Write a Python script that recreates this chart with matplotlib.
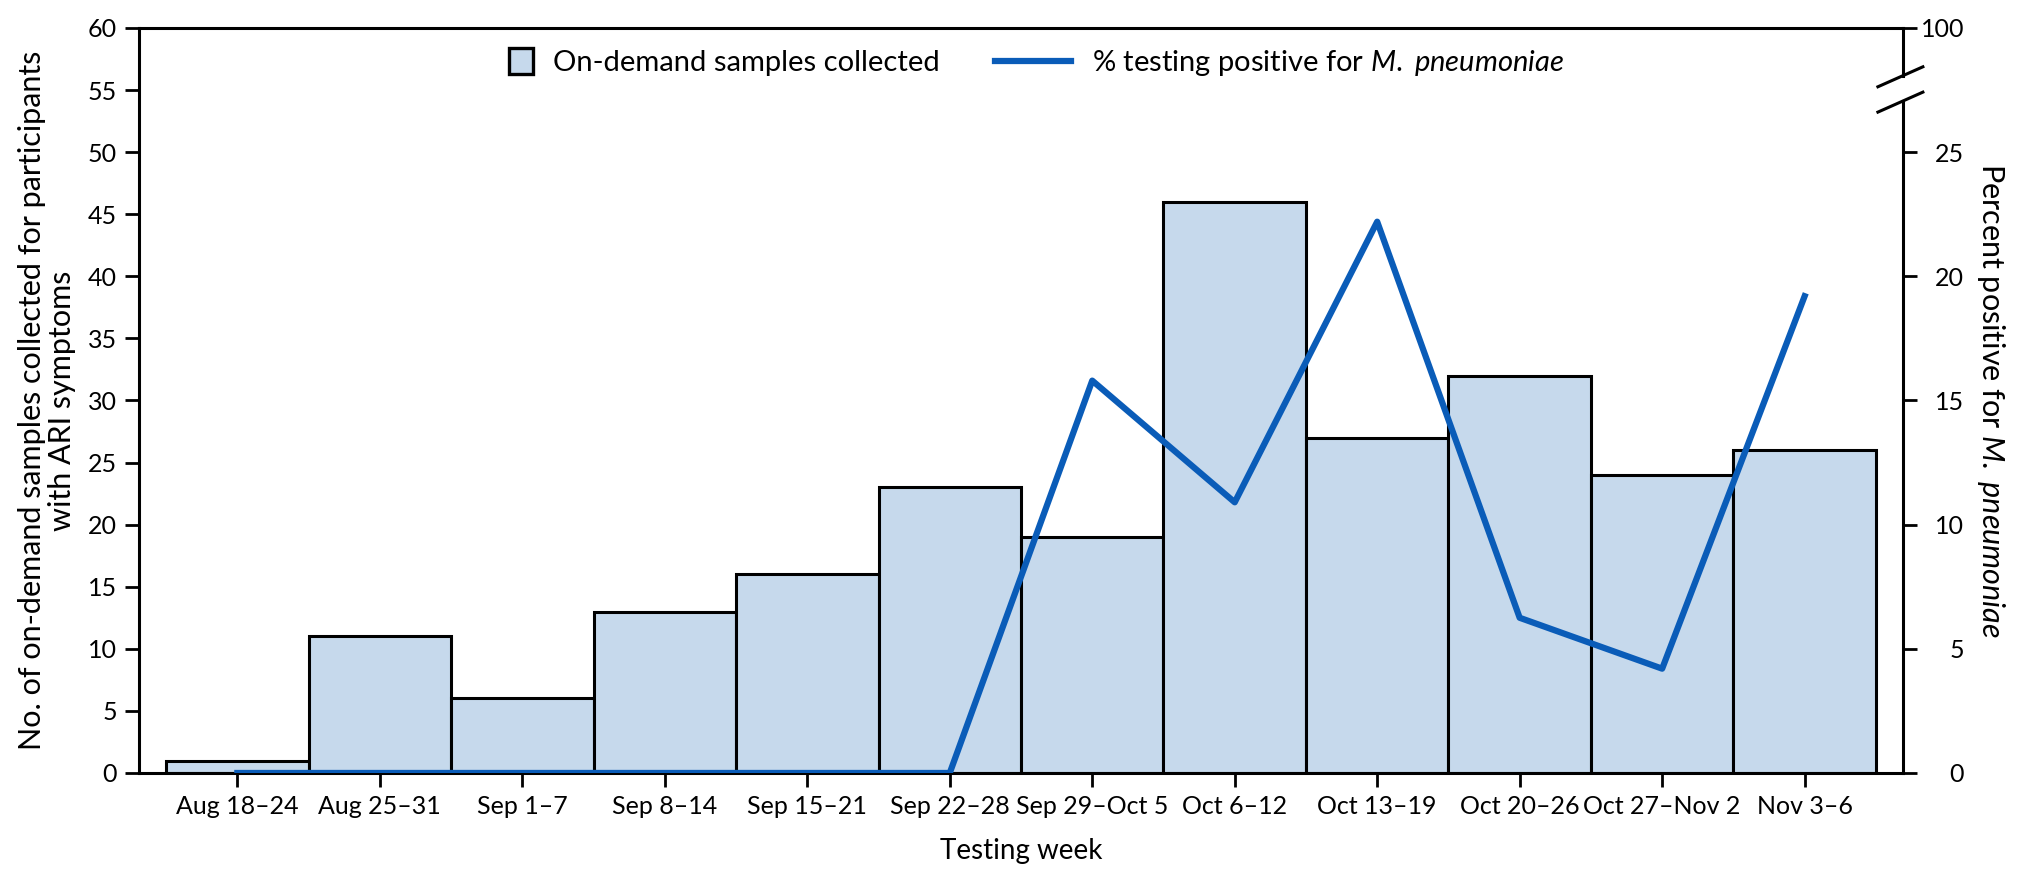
import numpy as np
import matplotlib
matplotlib.use("Agg")
import matplotlib.pyplot as plt
import matplotlib.patches as mpatches
from matplotlib.lines import Line2D
from matplotlib.legend_handler import HandlerPatch

weeks = ["Aug 18–24", "Aug 25–31", "Sep 1–7", "Sep 8–14", "Sep 15–21", "Sep 22–28",
         "Sep 29–Oct 5", "Oct 6–12", "Oct 13–19", "Oct 20–26", "Oct 27–Nov 2", "Nov 3–6"]
samples = [1, 11, 6, 13, 16, 23, 19, 46, 27, 32, 24, 26]
pct_positive = [0, 0, 0, 0, 0, 0, 15.8, 10.9, 22.2, 6.25, 4.2, 19.2]

left_ticks = [0, 5, 10, 15, 20, 25, 30, 35, 40, 45, 50, 55, 60]
right_ticks = [0, 5, 10, 15, 20, 25, 30]
right_labels = ["0", "5", "10", "15", "20", "25", "100"]

BAR_COLOR = "#c6d9ec"
LINE_COLOR = "#0a5cb8"
FONT = ["Lato", "DejaVu Sans"]

plt.rcParams["font.family"] = FONT
plt.rcParams["mathtext.fontset"] = "custom"
plt.rcParams["mathtext.it"] = "Lato:italic"
plt.rcParams["mathtext.rm"] = "Lato"


def square_patch(legend, orig_handle, xdescent, ydescent, width, height, fontsize):
    side = height * 1.3
    return mpatches.Rectangle((-xdescent + width - side * 0.9, -ydescent + height / 2 - side / 2),
                              side * 0.9, side)


fig = plt.figure(figsize=(20.27, 8.75), dpi=100)
ax = fig.add_axes([0.0686, 0.1166, 0.8702, 0.8514])
x = np.arange(len(weeks))

ax.bar(x, samples, width=1.0, color=BAR_COLOR, edgecolor="black", linewidth=2.2, zorder=2)
ax.set_xlim(-0.69, len(weeks) - 1 + 0.69)
ax.set_ylim(0, 60)
ax.set_yticks(left_ticks)
ax.set_xticks(x)
ax.set_xticklabels(weeks)
ax.tick_params(axis="both", labelsize=18, length=10, width=2, pad=6, direction="out")
ax.spines["right"].set_visible(False)
for s in ["left", "top", "bottom"]:
    ax.spines[s].set_linewidth(2.2)
ax.set_xlabel("Testing week", fontsize=20, labelpad=14)
ax.set_ylabel("No. of on-demand samples collected for participants\nwith ARI symptoms",
              fontsize=22, labelpad=8, multialignment="center", linespacing=1.1)

ax2 = ax.twinx()
ax2.plot(x, pct_positive, color=LINE_COLOR, linewidth=4.5, zorder=3)
ax2.set_ylim(0, 30)
ax2.set_yticks(right_ticks)
ax2.set_yticklabels(right_labels)
ax2.tick_params(axis="y", labelsize=18, length=10, width=2, pad=34)
for lab in ax2.get_yticklabels():
    lab.set_horizontalalignment("right")
for s in ["right", "left", "top", "bottom"]:
    ax2.spines[s].set_visible(False)
ax2.set_ylabel("Percent positive for $\\mathit{M.}$ $\\mathit{pneumoniae}$", fontsize=22,
               rotation=270, va="bottom", labelpad=8)

# broken right axis
tr = ax2.transAxes
ax2.plot([1, 1], [0, 0.902], color="black", lw=2.2, transform=tr, clip_on=False)
ax2.plot([1, 1], [0.936, 1], color="black", lw=2.2, transform=tr, clip_on=False)
for yc in [0.936, 0.902]:
    ax2.plot([1 - 0.0142, 1 + 0.0113], [yc - 0.0149, yc + 0.0119], color="black",
             lw=2.2, transform=tr, clip_on=False)

handles = [mpatches.Patch(facecolor=BAR_COLOR, edgecolor="black", linewidth=2.4),
           Line2D([], [], color=LINE_COLOR, linewidth=4.5)]
labels = ["On-demand samples collected", "% testing positive for $\\mathit{M.}$ $\\mathit{pneumoniae}$"]
ax.legend(handles, labels, loc="center", bbox_to_anchor=(0.494, 0.953), ncol=2, frameon=False,
          fontsize=21, handlelength=2.6, handletextpad=0.7, columnspacing=1.9,
          handler_map={mpatches.Patch: HandlerPatch(patch_func=square_patch)})

fig.savefig("out.png", dpi=100)
